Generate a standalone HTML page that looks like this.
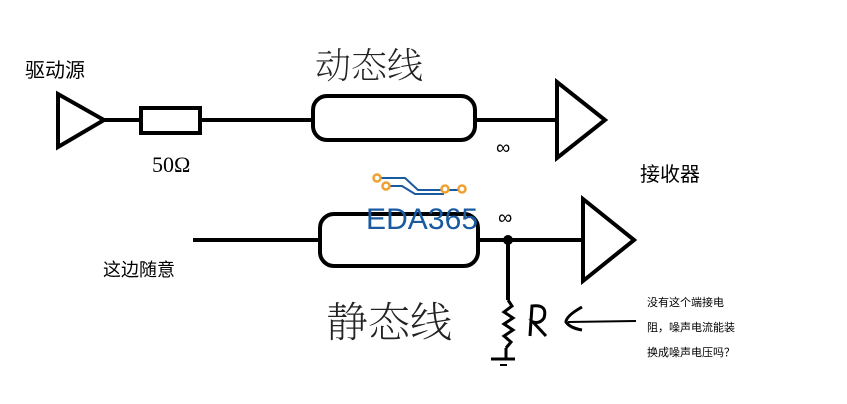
<!DOCTYPE html>
<html><head><meta charset="utf-8"><style>
html,body{margin:0;padding:0;background:#fff;}
svg{display:block}
</style></head><body>
<svg width="847" height="404" viewBox="0 0 847 404" xmlns="http://www.w3.org/2000/svg">
<rect width="847" height="404" fill="#fff"/>
<g fill="none" stroke="#000" stroke-width="4" stroke-linejoin="miter">
<!-- top -->
<polygon points="58,94 58,147 104,120"/>
<line x1="104" y1="120" x2="141" y2="120"/>
<rect x="141" y="108" width="59" height="25"/>
<line x1="200" y1="120" x2="313" y2="120"/>
<rect x="313" y="96" width="162" height="44" rx="14"/>
<line x1="475" y1="120" x2="555" y2="120"/>
<polygon points="557,82 557,158 605,120"/>
<!-- bottom -->
<line x1="193" y1="240" x2="320" y2="240"/>
<rect x="320" y="214" width="158" height="52" rx="14"/>
<line x1="478" y1="240" x2="582" y2="240"/>
<polygon points="583,199 583,281 634,240"/>
<line x1="508" y1="240" x2="508" y2="300"/>
<polyline points="508,300 512,306 504,312 513,318 504,324 513,330 504,336 511,342 506,348" stroke-width="3"/>
<line x1="506" y1="348" x2="506" y2="358" stroke-width="3"/>
<line x1="491" y1="359" x2="515" y2="359" stroke-width="3"/>
<line x1="500" y1="365" x2="507" y2="365" stroke-width="2"/>
</g>
<circle cx="508" cy="240" r="5" fill="#000"/>
<!-- R and arrow -->
<g fill="none" stroke="#000" stroke-width="3">
<path d="M530,336 L532,306 Q548,304 544,318 Q540,324 533,322 L546,336"/>
<path d="M582,307 Q566,316 566,322 Q570,328 582,330"/>
<line x1="568" y1="322" x2="636" y2="321" stroke-width="2"/>
</g>
<!-- handwritten-ish -->
<g font-family="'Liberation Sans','Noto Sans CJK SC',sans-serif" fill="#000">
<text x="25" y="77" font-size="20">驱动源</text>
<text x="640" y="181" font-size="20">接收器</text>
<text x="103" y="276" font-size="18">这边随意</text>
<text x="647" y="306" font-size="11">没有这个端接电</text>
<text x="647" y="331" font-size="11">阻，噪声电流能装</text>
<text x="647" y="356" font-size="11">换成噪声电压吗？</text>
<text x="496" y="154" font-size="20">∞</text>
<text x="498" y="224" font-size="20">∞</text>
<text x="315" y="78" font-size="36" font-family="'Noto Serif CJK SC',serif" font-weight="200" fill="#222">动态线</text>
<text x="326" y="337" font-size="42" font-family="'Noto Serif CJK SC',serif" font-weight="200" fill="#222">静态线</text>
<text x="152" y="172" font-size="22" font-family="'Liberation Serif',serif" font-weight="normal">50Ω</text>
</g>
<!-- EDA365 logo -->
<g fill="none" stroke="#1a5aa0" stroke-width="2">
<polyline points="378,178 405,178 418,190 461,190"/>
<polyline points="386,186 402,186 415,194 444,194"/>
</g>
<g fill="#fff" stroke="#f0a030" stroke-width="2.5">
<circle cx="377" cy="178" r="3.5"/><circle cx="386" cy="186" r="3.5"/>
<circle cx="445" cy="189" r="3.5"/><circle cx="462" cy="189" r="3.5"/>
</g>
<text x="366" y="229" font-family="'Liberation Sans',sans-serif" font-size="30" fill="#1a5aa0" textLength="112">EDA365</text>
</svg>
</body></html>
